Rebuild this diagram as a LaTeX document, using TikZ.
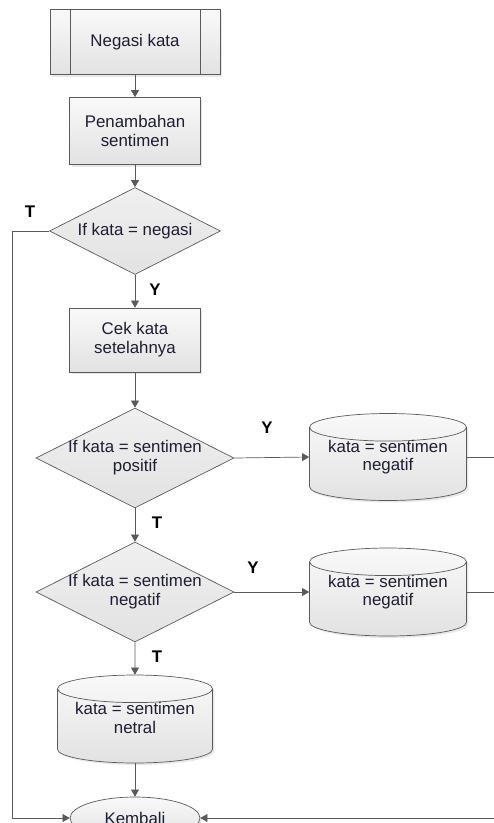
\documentclass[tikz,border=0pt]{standalone}
\usepackage{fontspec}
\setmainfont{Liberation Sans}
\usetikzlibrary{shapes.geometric,arrows.meta,shadows}
\definecolor{garis}{HTML}{5A5A5A}
\definecolor{atas}{HTML}{F9F9F9}
\definecolor{bawah}{HTML}{E2E2E2}
\definecolor{teks}{HTML}{1E1E32}
\begin{document}
\begin{tikzpicture}[x=0.02cm,y=-0.02cm]
        \tikzstyle{every node}=[font=\fontsize{9.6}{10.8}\selectfont,text=teks,align=center];
        \tikzstyle{bayang}=[drop shadow={opacity=0.18,shadow xshift=0.4mm,shadow yshift=-0.4mm}];
        \tikzstyle{kotak}=[draw=garis,rectangle,top color=atas,bottom color=bawah,bayang];
        \tikzstyle{putusan}=[draw=garis,diamond,aspect=2,inner sep=-1pt,top color=atas!60!bawah,bottom color=bawah];
        \tikzstyle{tabung}=[draw=garis,cylinder,shape border rotate=90,aspect=0.21,inner ysep=-1pt,text height=12.6pt,text depth=7.7pt,anchor=shape center,top color=atas,bottom color=bawah,bayang];
        \tikzstyle{lbl}=[font=\fontsize{9.6}{10.8}\selectfont\bfseries,text=black];
        \tikzstyle{panah}=[draw=garis,-{Triangle[width=4.5pt,length=4pt]}];
        \clip (0,0) rectangle (494,823);
        %proses
        \node[kotak,minimum width=3.4cm,minimum height=1.3cm] (neg) at (135,42) {Negasi kata};
        \node[kotak,minimum width=2.62cm,minimum height=1.34cm] (tambah) at (135,131) {Penambahan\\sentimen};
        \node[putusan,minimum width=3.42cm,minimum height=1.74cm] (d1) at (135,231) {If kata = negasi};
        \node[kotak,minimum width=2.62cm,minimum height=1.28cm] (cek) at (135,340) {Cek kata\\setelahnya};
        \node[putusan,minimum width=3.96cm,minimum height=2cm] (d2) at (135,458) {If kata = sentimen\\positif};
        \node[putusan,minimum width=3.96cm,minimum height=2cm] (d3) at (135,592) {If kata = sentimen\\negatif};
        \node[tabung,minimum width=3.14cm,minimum height=1.74cm] (pos) at (388,457) {kata = sentimen\\negatif};
        \node[tabung,minimum width=3.14cm,minimum height=1.76cm] (negc) at (388,592) {kata = sentimen\\negatif};
        \node[tabung,minimum width=3.1cm,minimum height=1.76cm] (netral) at (135,719) {kata = sentimen\\netral};
        \node[draw=garis,ellipse,top color=atas,bottom color=bawah,minimum width=2.6cm,minimum height=0.84cm,bayang] (kembali) at (135,818) {Kembali};
        \draw[garis] ([xshift=0.42cm]neg.north west) -- ([xshift=0.42cm]neg.south west)
        ([xshift=-0.4cm]neg.north east) -- ([xshift=-0.4cm]neg.south east);
        %label
        \node[lbl] (t1) at (30,212) {T};
        \node[lbl] (y1) at (155,290) {Y};
        \node[lbl] (y2) at (267,428) {Y};
        \node[lbl] (t2) at (157,523) {T};
        \node[lbl] (y3) at (253,568) {Y};
        \node[lbl] (t3) at (157,657) {T};
        %alur
        \coordinate (kiri) at (12,818);
        \coordinate (kanan) at (515,818);
        \draw[panah] (neg) -- (tambah);
        \draw[panah] (tambah) -- (d1);
        \draw[panah] (d1) -- (cek);
        \draw[panah] (cek) -- (d2);
        \draw[panah] (d2) -- (d3);
        \draw[panah] (d3) -- (netral);
        \draw[panah] (netral) -- (kembali);
        \draw[panah] (d2.east) -- (pos.shape center -| pos.west);
        \draw[panah] (d3.east) -- (negc.shape center -| negc.west);
        \draw[panah] (d1.west) -| (kiri) -- (kembali.west);
        \draw[garis] (pos.shape center -| pos.east) -| (kanan)
        (negc.shape center -| negc.east) -| (kanan);
        \draw[panah] (kanan) -- (kembali.east);
    \end{tikzpicture}
\end{document}
